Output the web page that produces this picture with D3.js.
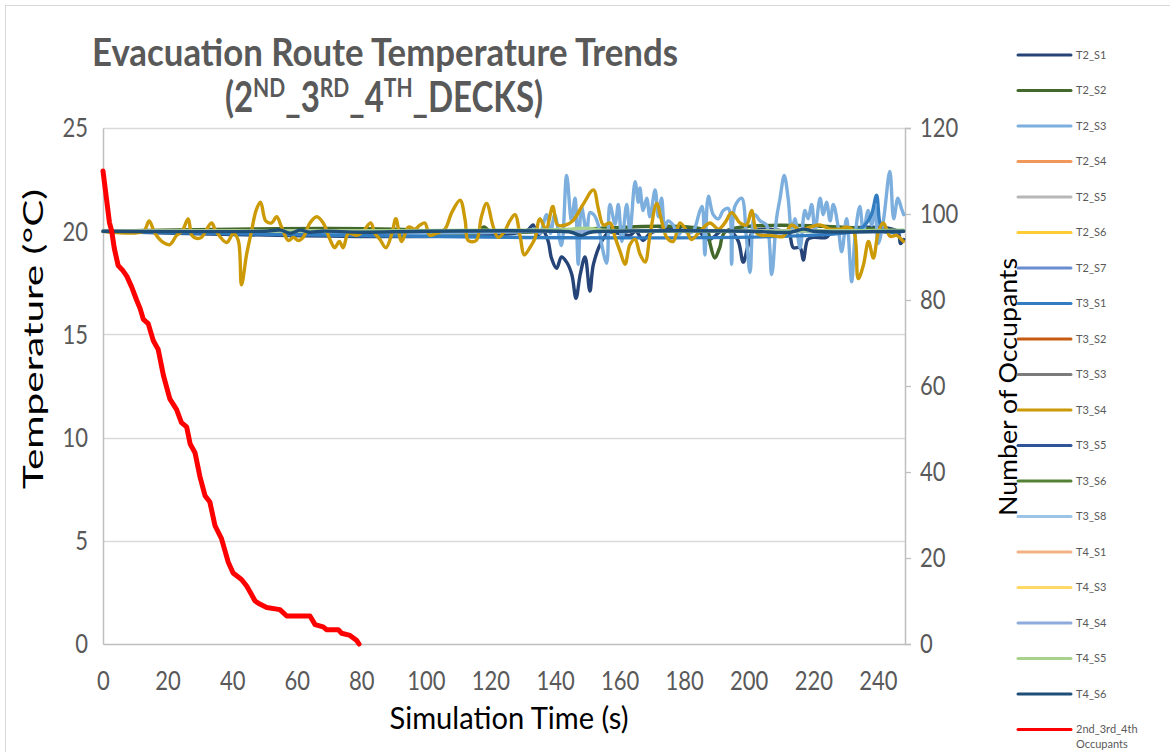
<!DOCTYPE html>
<html><head><meta charset="utf-8">
<script src="https://cdn.jsdelivr.net/npm/d3@7"></script>
<style>body{margin:0;background:#fff;} svg{display:block;font-family:Lato,'Open Sans',sans-serif;}</style>
</head><body><svg id="c" width="1170" height="752"></svg>
<script>
// ---- data ----
const seriesNames = ["T2_S1","T2_S2","T2_S3","T2_S4","T2_S5","T2_S6","T2_S7","T3_S1","T3_S2","T3_S3","T3_S4","T3_S5","T3_S6","T3_S8","T4_S1","T4_S3","T4_S4","T4_S5","T4_S6"];
const seriesColors = ["#264478","#43682B","#7CAFDD","#F1975A","#B7B7B7","#FFCD33","#698ED0","#327DC2","#C55A11","#7B7B7B","#CC9A06","#2F5597","#548235","#9DC3E6","#F4B183","#FFD966","#8FAADC","#A9D18E","#1F4E79"];
const occName = "2nd_3rd_4th Occupants";
const xTicks = [0,20,40,60,80,100,120,140,160,180,200,220,240];
const yLeftTicks = [0,5,10,15,20,25];
const yRightTicks = [0,20,40,60,80,100,120];

const T2_S1 = [[0,20],[131,20],[133.2,20.3],[134.5,19.8],[136.3,20],[137.9,19.5],[138.9,18.7],[140.5,18.2],[142,18.75],[143.6,18.5],[145.2,17.9],[146.5,16.75],[147.8,17.9],[149.3,18.75],[150.8,17.1],[151.9,18.4],[154.8,19.6],[156.8,19.95],[163.2,19.8],[165,20],[167.3,19.55],[168.8,19.8],[171,20],[184,20],[187.5,19.6],[189,19.7],[191.5,20],[195,19.9],[196.8,19.5],[198.3,18.5],[199.8,19.3],[201.5,20],[211,20],[212.5,19.9],[213.8,19.2],[215.9,19.2],[216.9,18.6],[218.3,19.6],[220,19.7],[224,19.7],[226,20],[246,20],[247,19.4],[248,19.6]];
const T2_S2 = [[0,20],[99,20],[101,19.85],[105,19.8],[110,19.8],[113,19.85],[116,19.95],[118,20.2],[120,20],[187,20],[188,19.4],[189.5,18.7],[191,19.2],[193,20],[248,20]];
const T2_S3 = [[0,20],[131,20],[133.8,20.1],[135.3,19.9],[137.4,20.8],[138.6,19.9],[139.9,20.8],[142,19.3],[143.6,22.7],[145.1,20.5],[146.2,21.6],[147.2,18.4],[148.2,21.2],[149.8,19.9],[150.8,20.9],[152,20.8],[153.4,20.3],[154.4,19.4],[156,18.45],[157,21.3],[158.6,20.35],[159.6,21.3],[160.7,19.5],[162.2,21.3],[163.2,20],[164.8,22.4],[165.8,21.4],[166.3,22.1],[167.3,21],[168.4,21.6],[169.4,20.7],[171,22],[172,20.7],[173,21.6],[174,20.2],[175,20.5],[176.6,20.3],[178.1,19.8],[179.7,20.1],[181.2,19.9],[182.8,20],[184.9,21],[185.6,21.2],[186.4,18.85],[187.5,21.7],[189,20.8],[190.6,20.6],[192.1,21],[193.7,21.1],[194.7,18.4],[195.7,21.2],[197.8,21.6],[199.3,19.65],[200.4,18],[201.9,20.8],[203.5,20.5],[205.5,20.3],[207.1,17.9],[208.6,20.6],[209.7,21.6],[211,22.7],[212.2,21.6],[213.3,20],[214.3,20.6],[215.9,19.2],[217.4,21],[218.4,20.6],[219.5,21.3],[220.5,20],[222.1,21.6],[223.1,20.8],[224.1,21.4],[225.2,20.5],[226.2,21.3],[227.7,20.2],[228.8,19],[230.3,20.6],[231.9,17.55],[232.9,19.7],[234.4,21.2],[235.5,20],[237,21],[238.1,20.3],[239.1,21.2],[240.1,19.4],[241.7,20.5],[243.7,22.9],[244.9,20.6],[246.2,21.6],[247.3,21.1],[248,20.8]];
const T2_S4 = [[0,20],[248,20]];
const T2_S5 = [[0,20],[248,20]];
const T2_S6 = [[0,20],[248,20]];
const T2_S7 = [[0,20],[248,20]];
const T3_S1 = [[0,20],[233,20],[236,20.3],[238,20.8],[239.6,21.75],[240.5,20.5],[241.5,20],[248,20]];
const T3_S2 = [[0,20],[248,20]];
const T3_S3 = [[0,20],[248,20]];
const T3_S4 = [[0,20],[12.5,20],[14.3,20.5],[16.1,19.9],[18.7,19.45],[20.7,19.35],[22.8,19.8],[24.5,20],[26.4,20.6],[27.5,19.8],[29,19.65],[30.5,19.7],[33.6,20.4],[35,20],[38.3,19.45],[40.4,19.9],[41.9,19.55],[42.9,17.4],[44.5,18.9],[46,20],[47.4,21],[48.8,21.4],[50.4,20.5],[52.2,20.4],[53.8,20.7],[55.3,20.2],[57.4,19.55],[59,19.7],[60.5,19.55],[62,19.7],[64.1,20.4],[66.2,20.7],[68.2,20.4],[70.3,19.6],[71.8,19.2],[73.2,19.5],[74.4,19.2],[76,19.9],[78.6,19.8],[80.6,20],[82.9,20.4],[84.2,19.9],[85.8,19.6],[87.6,19.2],[89.5,19.9],[90.7,20.6],[92.5,19.5],[94.6,20.2],[96.6,20.1],[98.2,20.3],[99.7,20.4],[101.2,19.8],[103.3,19.9],[105.9,20.1],[108,20.9],[110.6,21.5],[112.2,20.5],[113.1,19.55],[115.6,19.55],[117.2,20.7],[118.8,21.35],[120.9,20.2],[122.4,19.7],[124.4,20],[126,20.5],[127.6,20.8],[129.2,19.75],[130.5,18.85],[132.2,19.2],[133.8,19.65],[135.3,20.6],[137.2,20.1],[139.3,21.2],[140.8,20.3],[143.3,20.3],[145.5,20.5],[148.7,21.3],[151.9,22],[153.4,21.1],[155,20.3],[157.1,20.4],[158.6,19.7],[160.2,19],[161.7,18.4],[163.2,19.35],[164.8,19.6],[166.3,18.9],[167.9,18.5],[169.4,19.8],[171.5,21.35],[173,20.5],[174.6,19.7],[176.6,19.5],[178.7,20.4],[180.8,20],[182.3,19.6],[184.9,20],[188,20.4],[190.6,20.1],[192.6,20.4],[194.7,20.9],[197.3,20.4],[199.3,20.3],[200.9,21],[202.5,19.9],[204,19.8],[206.6,19.8],[208.7,19.75],[210.7,19.75],[213.3,20.3],[215.9,20.05],[219,20.2],[222.1,20.3],[225.2,20.1],[228.3,20.1],[230.4,20.2],[232.5,20],[233.9,17.7],[235.5,18.35],[237.1,19.5],[238.6,18.7],[240.2,20],[241.7,20.4],[243.8,19.75],[245.8,19.8],[247.9,19.5]];
const T3_S5 = [[0,20],[248,20]];
const T3_S6 = [[0,20],[248,20]];
const T3_S8 = [[0,20],[248,20]];
const T4_S1 = [[0,20],[248,20]];
const T4_S3 = [[0,20],[248,20]];
const T4_S4 = [[0,20],[248,20]];
const T4_S5 = [[0,20],[130,20.05],[145,20.1],[150,20.15],[155,20.05],[248,20.05]];
const T4_S6 = [[0,20],[50,20],[55,20.05],[58,19.9],[61,20.05],[64,19.95],[68,20],[80,19.95],[100,20],[140,20],[145,19.95],[148,19.8],[151,19.95],[160,20],[200,20],[213,19.95],[217,20.1],[220,20],[248,20]];
const occupants = [[0,110],[1,104],[2,98],[2.7,96],[3.5,92],[4.7,88],[6,87],[7.4,85.5],[8.9,83],[10.4,80],[11.5,78],[12.5,75.5],[14,74.5],[15.6,70.5],[17.1,68.5],[18.7,62.5],[20.7,57],[22.8,54.5],[24.3,51.5],[25.9,50.5],[27,46.5],[28.5,44.5],[30,39],[31.6,34.5],[33.1,33],[34.7,27.5],[36.7,24.5],[38.8,19],[40.3,16.5],[42.9,15],[44.5,13.5],[46,11.5],[47.1,10],[48.1,9.5],[50.7,8.5],[54.8,8],[56.9,6.5],[64.1,6.5],[65.7,4.5],[68.2,4],[69.3,3.3],[72.9,3.3],[73.9,2.5],[76.5,2],[78.6,0.8],[79.3,0]];

const seriesData = [T2_S1,T2_S2,T2_S3,T2_S4,T2_S5,T2_S6,T2_S7,T3_S1,T3_S2,T3_S3,T3_S4,T3_S5,T3_S6,T3_S8,T4_S1,T4_S3,T4_S4,T4_S5,T4_S6];

// ---- drawing ----
const svg = d3.select("#c");
const x = d3.scaleLinear().domain([0,248.4]).range([103,905]);
const yL = d3.scaleLinear().domain([0,25]).range([644,128]);
const yR = d3.scaleLinear().domain([0,120]).range([644,128]);
const grey = "#595959";
const VS = 1.25; // vertical stretch of text seen in the reference

svg.append("rect").attr("x",5.5).attr("y",5.5).attr("width",1180).attr("height",760)
  .attr("fill","#fff").attr("stroke","#d9d9d9");

// gridlines
svg.append("g").selectAll("line").data(yLeftTicks.filter(d=>d>0)).join("line")
  .attr("x1",x(0)).attr("x2",x(248.4)).attr("y1",d=>Math.round(yL(d))+0.5).attr("y2",d=>Math.round(yL(d))+0.5)
  .attr("stroke","#d9d9d9").attr("stroke-width",1.3);

// axes
const axL = svg.append("g").attr("transform","translate(103,0)").call(d3.axisLeft(yL).tickValues(yLeftTicks).tickSize(0).tickPadding(15));
const axR = svg.append("g").attr("transform","translate(905,0)").call(d3.axisRight(yR).tickValues(yRightTicks).tickSize(6).tickPadding(9));
const axB = svg.append("g").attr("transform","translate(0,644)").call(d3.axisBottom(x).tickValues(xTicks).tickSize(0));
[axL,axR,axB].forEach(a=>{
  a.select(".domain").attr("stroke","#bfbfbf").attr("stroke-width",1.5);
  a.selectAll(".tick line").attr("stroke","#bfbfbf").attr("stroke-width",1.3);
  a.selectAll("text").attr("font-family","Lato,'Open Sans',sans-serif").attr("font-size",22).attr("fill",grey)
    .attr("transform",`scale(1,${VS})`);
});
axB.selectAll("text").attr("dy","0.35em").attr("y",36/VS);

// lines
const tLine = d3.line().x(d=>x(d[0])).y(d=>yL(d[1])).curve(d3.curveCatmullRom.alpha(0.5));
svg.append("g").selectAll("path").data(seriesData).join("path")
  .attr("d",tLine).attr("fill","none").attr("stroke",(d,i)=>seriesColors[i])
  .attr("stroke-width",3.4).attr("stroke-linejoin","round").attr("stroke-linecap","round");
const oLine = d3.line().x(d=>x(d[0])).y(d=>yR(d[1]));
svg.append("path").datum(occupants).attr("d",oLine).attr("fill","none").attr("stroke","#FF0000")
  .attr("stroke-width",5).attr("stroke-linejoin","round").attr("stroke-linecap","round");

// titles
svg.append("text").attr("transform",`translate(385,66) scale(1,${VS})`).attr("text-anchor","middle")
  .attr("font-size",30).attr("font-weight","bold").attr("fill",grey)
  .attr("textLength",586).attr("lengthAdjust","spacingAndGlyphs")
  .text("Evacuation Route Temperature Trends");
const t2 = svg.append("text").attr("transform",`translate(384,112) scale(1,${VS})`).attr("text-anchor","middle")
  .attr("font-size",33).attr("font-weight","bold").attr("fill",grey);
const parts = [["(2",0],["ND",1],["_3",0],["RD",1],["_4",0],["TH",1],["_DECKS)",0]];
parts.forEach(p=>{
  const ts = t2.append("tspan").text(p[0]);
  if(p[1]) ts.attr("font-size",21).attr("baseline-shift","super");
});

svg.append("text").attr("transform",`translate(509,729) scale(1,${VS})`).attr("text-anchor","middle")
  .attr("font-size",25).attr("fill","#000").attr("textLength",239).attr("lengthAdjust","spacingAndGlyphs")
  .text("Simulation Time (s)");
svg.append("text").attr("transform","translate(43,339) rotate(-90)").attr("text-anchor","middle")
  .attr("font-size",27).attr("fill","#000").attr("textLength",300).attr("lengthAdjust","spacingAndGlyphs")
  .text("Temperature (°C)");
svg.append("text").attr("transform","translate(1017,387) rotate(-90)").attr("text-anchor","middle")
  .attr("font-size",25).attr("fill","#000").attr("textLength",258).attr("lengthAdjust","spacingAndGlyphs")
  .text("Number of Occupants");

// legend
const legNames = seriesNames.concat([occName]);
const legColors = seriesColors.concat(["#FF0000"]);
const lg = svg.append("g").selectAll("g").data(legNames).join("g")
  .attr("transform",(d,i)=>`translate(0,${55+i*35.5})`);
lg.append("line").attr("x1",1018).attr("x2",1071).attr("stroke",(d,i)=>legColors[i])
  .attr("stroke-width",3).attr("stroke-linecap","round");
lg.each(function(d){
  const t = d3.select(this).append("text").attr("x",1076).attr("y",0).attr("dy","0.35em")
    .attr("font-size",11).attr("fill",grey);
  if(d===occName){
    t.append("tspan").attr("x",1076).text("2nd_3rd_4th");
    t.append("tspan").attr("x",1076).attr("dy","1.35em").text("Occupants");
  } else t.text(d);
});
</script></body></html>
